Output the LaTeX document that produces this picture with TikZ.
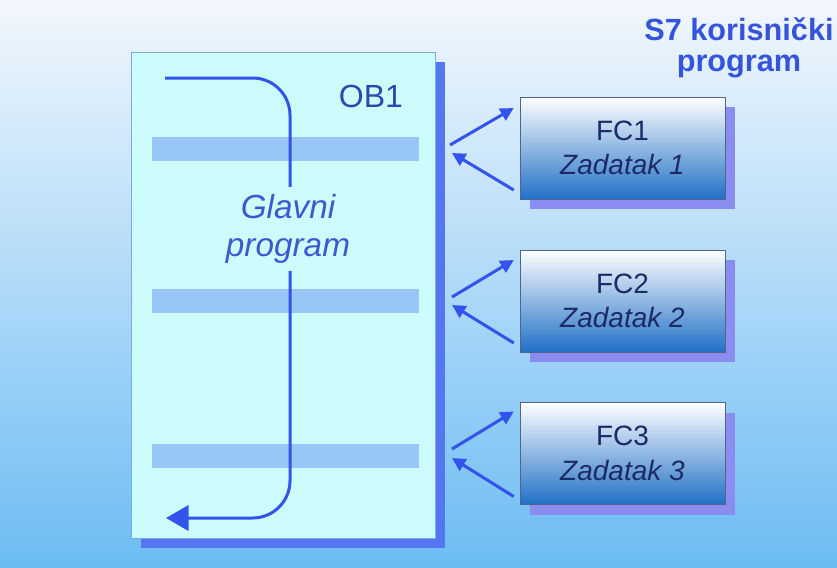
\documentclass[tikz,border=0pt]{standalone}
\usepackage{fontspec}
\setmainfont{Liberation Sans}
\usetikzlibrary{arrows.meta,shadows}
\definecolor{bgtop}{RGB}{242,247,252}
\definecolor{bgbot}{RGB}{108,188,244}
\definecolor{obfill}{RGB}{204,252,252}
\definecolor{obline}{RGB}{130,168,236}
\definecolor{obshade}{RGB}{84,118,240}
\definecolor{barblue}{RGB}{152,198,246}
\definecolor{flowblue}{RGB}{50,84,236}
\definecolor{labelblue}{RGB}{44,72,176}
\definecolor{mainlabel}{RGB}{58,90,208}
\definecolor{titleblue}{RGB}{52,84,222}
\definecolor{fcshade}{RGB}{138,140,240}
\definecolor{fcbot}{RGB}{32,112,198}
\definecolor{fctext}{RGB}{30,42,104}

\begin{document}
\begin{tikzpicture}
      [ x = .75pt, y = -.75pt
      , mainblock/.style =
        { draw = obline, fill = obfill, minimum width = 228pt, minimum height = 364.5pt
        , general shadow = {fill = obshade, shadow xshift = 7.5pt, shadow yshift = -7.5pt} }
      , taskblock/.style =
        { draw = obline!60!black, top color = white, bottom color = fcbot
        , minimum width = 153.75pt, minimum height = 76.5pt
        , text = fctext, align = center, font = \fontsize{21}{26}\selectfont
        , general shadow = {fill = fcshade, shadow xshift = 7.5pt, shadow yshift = -7.5pt} }
      , bar/.style =
        { fill = barblue }
      , flow/.style =
        { draw = flowblue, line width = 2.25pt, rounded corners = 28pt
        , -{Triangle[length = 17pt, width = 19pt]} }
      , call/.style =
        { draw = flowblue, line width = 2.25pt, -{Triangle[length = 10pt, width = 10pt]} }
      ]
      % background
      \shade [top color = bgtop, bottom color = bgbot] (0, 0) rectangle (837, 567);
      \useasboundingbox (0, 0) rectangle (837, 567);
      % main program block
      \node [mainblock] (ob1) at (283, 295) {};
      \fill [bar] (152, 137) rectangle (419, 161);
      \fill [bar] (152, 289) rectangle (419, 313);
      \fill [bar] (152, 444) rectangle (419, 468);
      \node [text = labelblue, font = \fontsize{24}{28}\selectfont] (ob1label) at (371, 96) {OB1};
      \coordinate (start) at (165, 78);
      \coordinate (end) at (166, 518);
      \draw [flow] (start) -- (290, 78) -- (290, 518) -- (end);
      \node [fill = obfill, inner ysep = 5.5pt, text = mainlabel, align = center
            , font = \fontsize{25}{29}\itshape\selectfont]
        (glavni) at (288, 229) {Glavni\\program};
      % functions
      \node [taskblock] (fc1) at (622.5, 148) {FC1\\\textit{Zadatak 1}};
      \node [taskblock] (fc2) at (622.5, 301) {FC2\\\textit{Zadatak 2}};
      \node [taskblock] (fc3) at (622.5, 453.5) {FC3\\\textit{Zadatak 3}};
      \node [text = titleblue, align = center, font = \fontsize{23}{23}\bfseries\selectfont]
        (title) at (739, 48) {S7 korisnički\\program};
      % calls
      \coordinate (out1) at (450, 145);
      \coordinate (in1) at (452, 153);
      \coordinate (out2) at (452, 297);
      \coordinate (in2) at (452, 305);
      \coordinate (out3) at (452, 449);
      \coordinate (in3) at (452, 458);
      \draw [call] (out1) -- ([shift = {(-6, -40)}]fc1.west);
      \draw [call] ([shift = {(-6, 42)}]fc1.west) -- (in1);
      \draw [call] (out2) -- ([shift = {(-6, -41)}]fc2.west);
      \draw [call] ([shift = {(-6, 42)}]fc2.west) -- (in2);
      \draw [call] (out3) -- ([shift = {(-6, -42)}]fc3.west);
      \draw [call] ([shift = {(-6, 43)}]fc3.west) -- (in3);
    \end{tikzpicture}
\end{document}
